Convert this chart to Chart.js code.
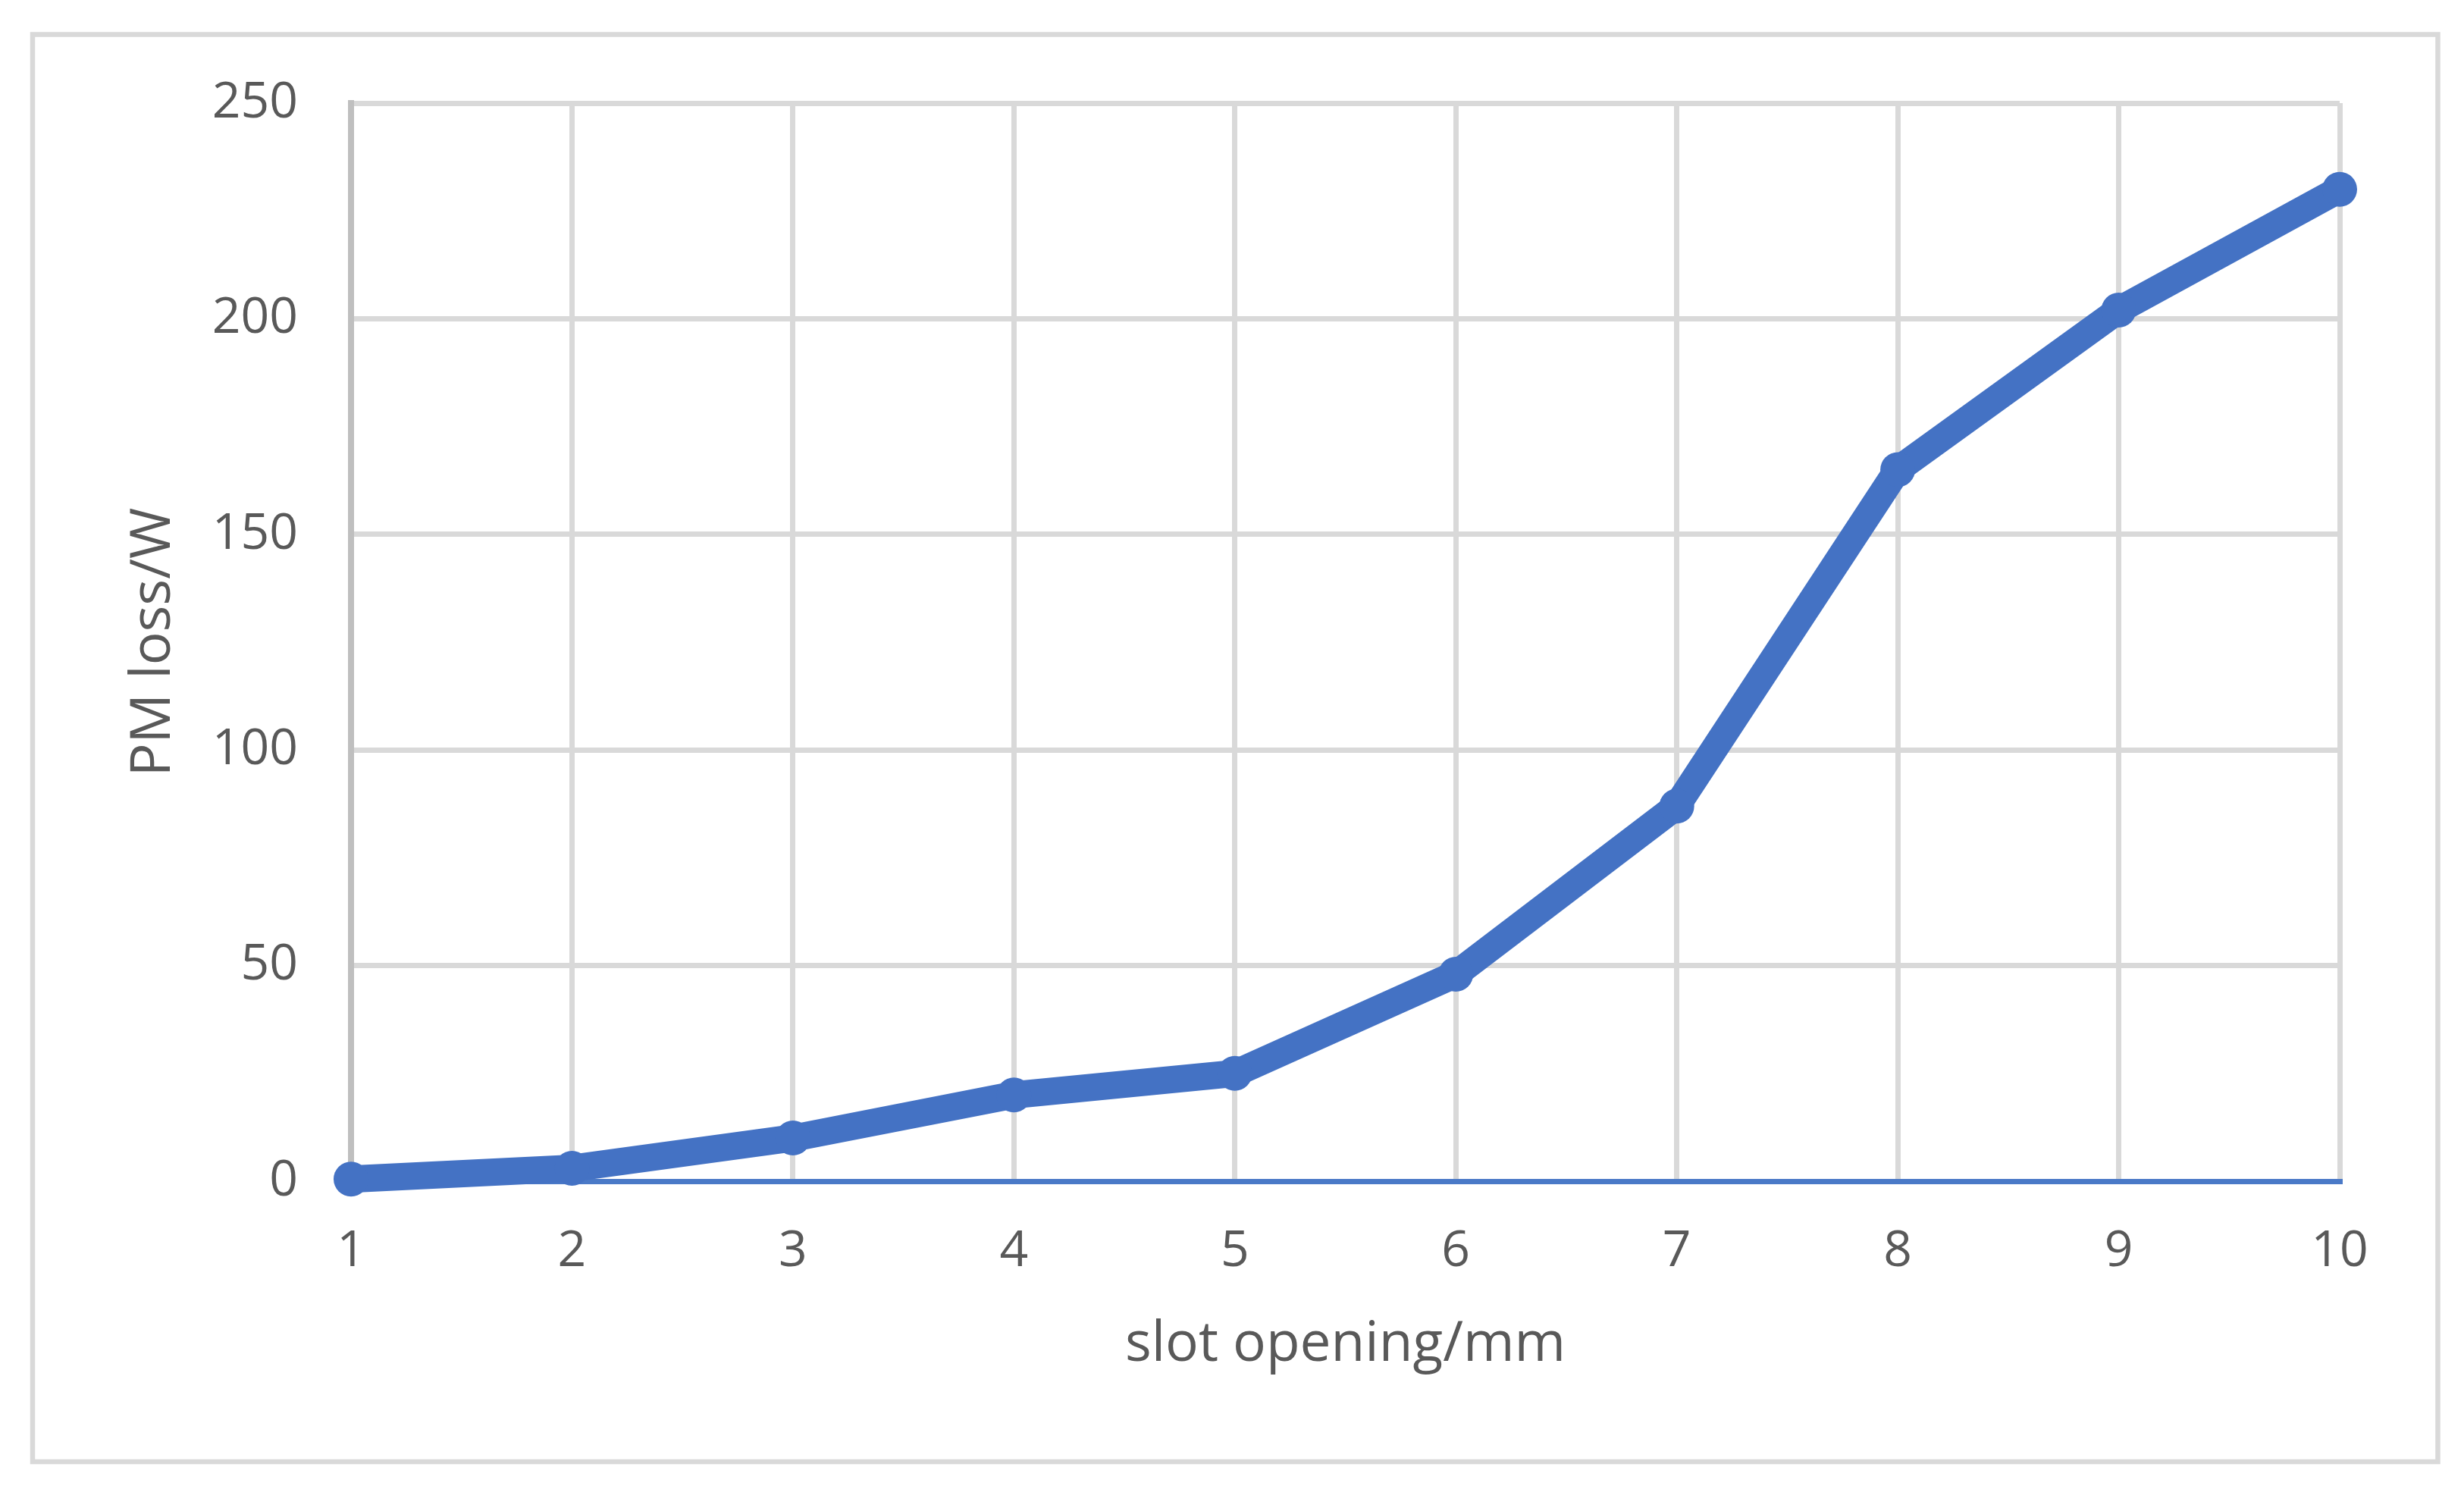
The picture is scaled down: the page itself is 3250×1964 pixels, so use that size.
<!DOCTYPE html>
<html>
<head>
<meta charset="utf-8">
<script src="https://cdn.jsdelivr.net/npm/chart.js@4.4.1/dist/chart.umd.min.js"></script>
<style>
  html, body { margin: 0; padding: 0; background: #ffffff; }
  canvas { display: block; }
</style>
</head>
<body>
<canvas id="grafico" width="3250" height="1964"></canvas>
<script>
// datos
const slotOpening = ['1', '2', '3', '4', '5', '6', '7', '8', '9', '10'];
const pmLoss = [0.5, 3, 10, 20, 25, 48, 87, 165, 202, 230];
const yMin = 0;
const yMax = 250;
const yStep = 50;

const xTitle = 'slot opening/mm';
const yTitle = 'PM loss/W';

const textColor = '#595959';
const gridColor = '#d9d9d9';
const axisColor = '#bfbfbf';
const fontFamily = '"Open Sans", "Segoe UI", "Noto Sans", sans-serif';

// marco gris alrededor de todo el grafico
const marco = {
  id: 'marco',
  afterDraw(chart) {
    const ctx = chart.ctx;
    ctx.save();
    ctx.strokeStyle = gridColor;
    ctx.lineWidth = 6.5;
    ctx.strokeRect(43, 45.5, 3172.5, 1882.5);
    ctx.restore();
  }
};

document.addEventListener('DOMContentLoaded', function () {
  const ctx = document.getElementById('grafico');

  new Chart(ctx, {
    type: 'line',
    data: {
      labels: slotOpening,
      datasets: [{
        data: pmLoss,
        borderColor: '#4472c4',
        backgroundColor: '#4472c4',
        borderWidth: 36,
        pointRadius: 23,
        pointHoverRadius: 23,
        pointBorderWidth: 0,
        pointBackgroundColor: '#4472c4',
        borderJoinStyle: 'round',
        tension: 0,
        fill: false,
        clip: false
      }]
    },
    options: {
      responsive: false,
      devicePixelRatio: 1,
      animation: false,
      events: [],
      layout: {
        padding: { top: 136, right: 164, bottom: 0, left: 0 }
      },
      plugins: {
        legend: { display: false },
        tooltip: { enabled: false }
      },
      scales: {
        x: {
          offset: false,
          afterFit(scale) { scale.height = 406; },
          grid: {
            // la primera linea coincide con el eje vertical gris
            color: c => c.index === 0 ? axisColor : gridColor,
            lineWidth: c => c.index === 0 ? 8 : 7,
            drawTicks: false
          },
          border: {
            display: true,
            color: '#4a79c7',
            width: 7
          },
          ticks: {
            color: textColor,
            padding: 54,
            maxRotation: 0,
            font: { family: fontFamily, size: 66 }
          },
          title: {
            display: true,
            text: xTitle,
            color: textColor,
            padding: { top: 0, bottom: 146 },
            font: { family: fontFamily, size: 73 }
          }
        },
        y: {
          min: yMin,
          max: yMax,
          afterFit(scale) { scale.width = 463; },
          grid: {
            color: gridColor,
            lineWidth: 7,
            drawTicks: false
          },
          border: {
            display: true,
            color: axisColor,
            width: 8
          },
          ticks: {
            stepSize: yStep,
            color: textColor,
            padding: 70,
            font: { family: fontFamily, size: 66 }
          },
          title: {
            display: true,
            text: yTitle,
            color: textColor,
            padding: { top: 159, bottom: 0 },
            font: { family: fontFamily, size: 73 }
          }
        }
      }
    },
    plugins: [marco]
  });
});
</script>
</body>
</html>
